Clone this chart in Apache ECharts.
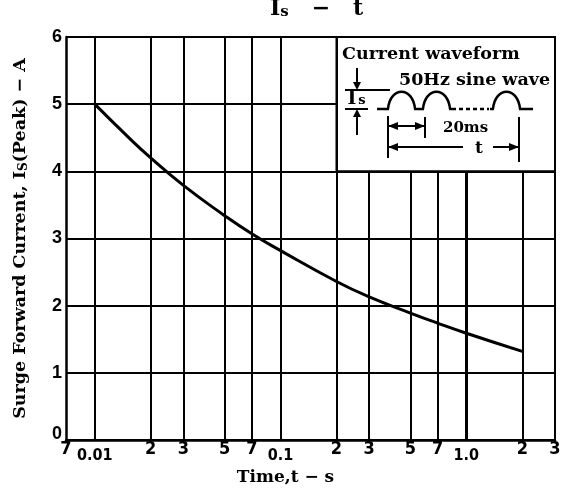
<!DOCTYPE html>
<html><head><meta charset="utf-8">
<script src="https://cdn.jsdelivr.net/npm/echarts@6/dist/echarts.min.js"></script>
<style>html,body{margin:0;padding:0;background:#fff}#c{width:574px;height:493px}</style>
</head><body><div id="c"></div>
<script>
// ---- data ----
const timeS  = [0.01, 0.015, 0.02, 0.03, 0.05, 0.07, 0.1, 0.2, 0.3, 0.5, 0.7, 1.0, 2.0];
const surgeA = [5.00, 4.52, 4.20, 3.79, 3.34, 3.07, 2.82, 2.36, 2.13, 1.89, 1.74, 1.59, 1.32];
const xTicks = [0.007, 0.01, 0.02, 0.03, 0.05, 0.07, 0.1, 0.2, 0.3, 0.5, 0.7, 1, 2, 3];
const xTickLabels = ['7', '0.01', '2', '3', '5', '7', '0.1', '2', '3', '5', '7', '1.0', '2', '3'];
const decadeLabels = ['0.01', '0.1', '1.0'];
const yMin = 0, yMax = 6, yStep = 1;
const insetBox = { x0: 0.2, x1: 3, y0: 4, y1: 6 };

const lg = Math.log10;
const serif = '"DejaVu Serif", "Liberation Serif", serif';
const tickFont = '"Liberation Sans Narrow", "DejaVu Sans Condensed", "Liberation Sans", sans-serif';
const sansFont = '"Liberation Sans", Arial, sans-serif';
const st = (size, family, extra) => Object.assign({ fontSize: size, fontFamily: family, fontWeight: 'bold', color: '#000' }, extra || {});

function labelFor(v) {
  let best = 0, bd = Infinity;
  xTicks.forEach((t, i) => { const d = Math.abs(lg(t) - v); if (d < bd) { bd = d; best = i; } });
  const s = xTickLabels[best];
  return decadeLabels.includes(s) ? '{d|' + s + '}' : '{m|' + s + '}';
}

const vLines = xTicks.slice(1).map(t => {
  const top = (t > insetBox.x0 && t < insetBox.x1) ? insetBox.y0 : yMax;
  const seg = [{ coord: [lg(t), yMin] }, { coord: [lg(t), top] }];
  if (t === 1) seg[0].lineStyle = { width: 3 };
  return seg;
});

const chart = echarts.init(document.getElementById('c'), null, { renderer: 'canvas' });
const ln = (x1, y1, x2, y2, w, dash) => ({ type: 'line', z: 100, shape: { x1, y1, x2, y2 }, style: { stroke: '#000', lineWidth: w || 2, lineDash: dash || null } });
const bump = (x0, x1, base, top) => ({ type: 'bezierCurve', z: 100,
  shape: { x1: x0, y1: base, x2: x1, y2: base, cpx1: x0 + 2, cpy1: top, cpx2: x1 - 2, cpy2: top },
  style: { stroke: '#000', lineWidth: 2.5, fill: null } });
const tri = (pts) => ({ type: 'polygon', z: 100, shape: { points: pts }, style: { fill: '#000' } });
const txt = (x, y, text, font, align) => ({ type: 'text', x, y, z: 100, style: { text, font, fill: '#000', align: align || 'left', verticalAlign: 'middle' } });

chart.setOption({
  animation: false,
  backgroundColor: '#fff',
  title: {
    text: '{a|I}{b|s}{c|   −   t}',
    left: 265, top: -7,
    textStyle: {
      rich: {
        a: st(22, serif),
        b: st(15, serif, { verticalAlign: 'bottom', lineHeight: 10 }),
        c: st(22, serif)
      }
    }
  },
  grid: { left: 66, right: 19, top: 37, bottom: 53, containLabel: false },
  xAxis: {
    type: 'value',
    min: lg(xTicks[0]), max: lg(xTicks[xTicks.length - 1]),
    name: 'Time,t − s',
    nameLocation: 'middle', nameGap: 29,
    nameTextStyle: st(17, serif, { padding: [0, 50, 0, 0] }),
    axisLine: { show: true, onZero: false, lineStyle: { color: '#000', width: 2.5 } },
    axisTick: { show: false },
    splitLine: { show: false },
    axisLabel: {
      customValues: xTicks.map(lg),
      margin: 0,
      formatter: labelFor,
      rich: {
        m: st(18, tickFont),
        d: st(16, tickFont, { padding: [8, 0, 0, 0] })
      }
    }
  },
  yAxis: {
    type: 'value', min: yMin, max: yMax, interval: yStep,
    name: '{n|Surge Forward Current, I}{s|S}{n|(Peak) − A}',
    nameLocation: 'middle', nameGap: 36,
    nameTextStyle: {
      rich: {
        n: st(17.5, serif, { lineHeight: 20 }),
        s: st(12, serif, { verticalAlign: 'bottom', lineHeight: 8 })
      }
    },
    axisLine: { show: true, onZero: false, lineStyle: { color: '#000', width: 2.5 } },
    axisTick: { show: false },
    splitLine: { show: true, lineStyle: { color: '#000', width: 2 } },
    axisLabel: {
      margin: 4,
      formatter: v => v === 0 ? '{z|0}' : '{y|' + v + '}',
      rich: {
        y: st(18, sansFont),
        z: st(18, sansFont, { padding: [0, 0, 12, 0] })
      }
    }
  },
  series: [{
    type: 'line',
    smooth: 0.5,
    symbol: 'none',
    data: timeS.map((t, i) => [lg(t), surgeA[i]]),
    lineStyle: { color: '#000', width: 3 },
    z: 5,
    markLine: {
      silent: true, symbol: ['none', 'none'], label: { show: false },
      lineStyle: { color: '#000', width: 2, type: 'solid' },
      data: vLines
    },
    markArea: {
      silent: true,
      itemStyle: { color: '#fff', borderColor: '#000', borderWidth: 2 },
      data: [[{ coord: [lg(insetBox.x0), insetBox.y0] }, { coord: [lg(insetBox.x1), insetBox.y1] }]]
    }
  }],
  graphic: [
    txt(342, 54, 'Current waveform', 'bold 17.5px ' + serif),
    txt(399, 80, '50Hz sine wave', 'bold 17.5px ' + serif),
    txt(443, 128, '20ms', 'bold 15px ' + serif),
    txt(479, 149, 't', 'bold 17px ' + serif, 'center'),
    txt(352, 99, 'I', 'bold 19px ' + serif, 'center'),
    txt(362, 101, 's', 'bold 13px ' + serif, 'center'),
    ln(377, 109, 389, 109, 2.5), bump(388, 415, 109, 86),
    ln(414, 109, 424, 109, 2.5), bump(423, 450, 109, 86),
    ln(449, 109, 456, 109, 2.5), ln(459, 109, 489, 109, 2.5, [4, 3]),
    ln(490, 109, 494, 109, 2.5), bump(493, 520, 109, 86), ln(519, 109, 533, 109, 2.5),
    ln(345, 90, 390, 90), ln(345, 109, 368, 109),
    ln(357, 68, 357, 84), tri([[353, 82], [361, 82], [357, 90]]),
    ln(357, 135, 357, 115), tri([[353, 117], [361, 117], [357, 109]]),
    ln(388, 116, 388, 158), ln(425, 117, 425, 138),
    ln(388, 126, 425, 126), tri([[388, 126], [398, 122], [398, 130]]), tri([[425, 126], [415, 122], [415, 130]]),
    ln(388, 147, 463, 147), tri([[388, 147], [398, 143], [398, 151]]),
    ln(493, 147, 519, 147), tri([[519, 147], [509, 143], [509, 151]]),
    ln(519, 117, 519, 162)
  ]
});
</script></body></html>
